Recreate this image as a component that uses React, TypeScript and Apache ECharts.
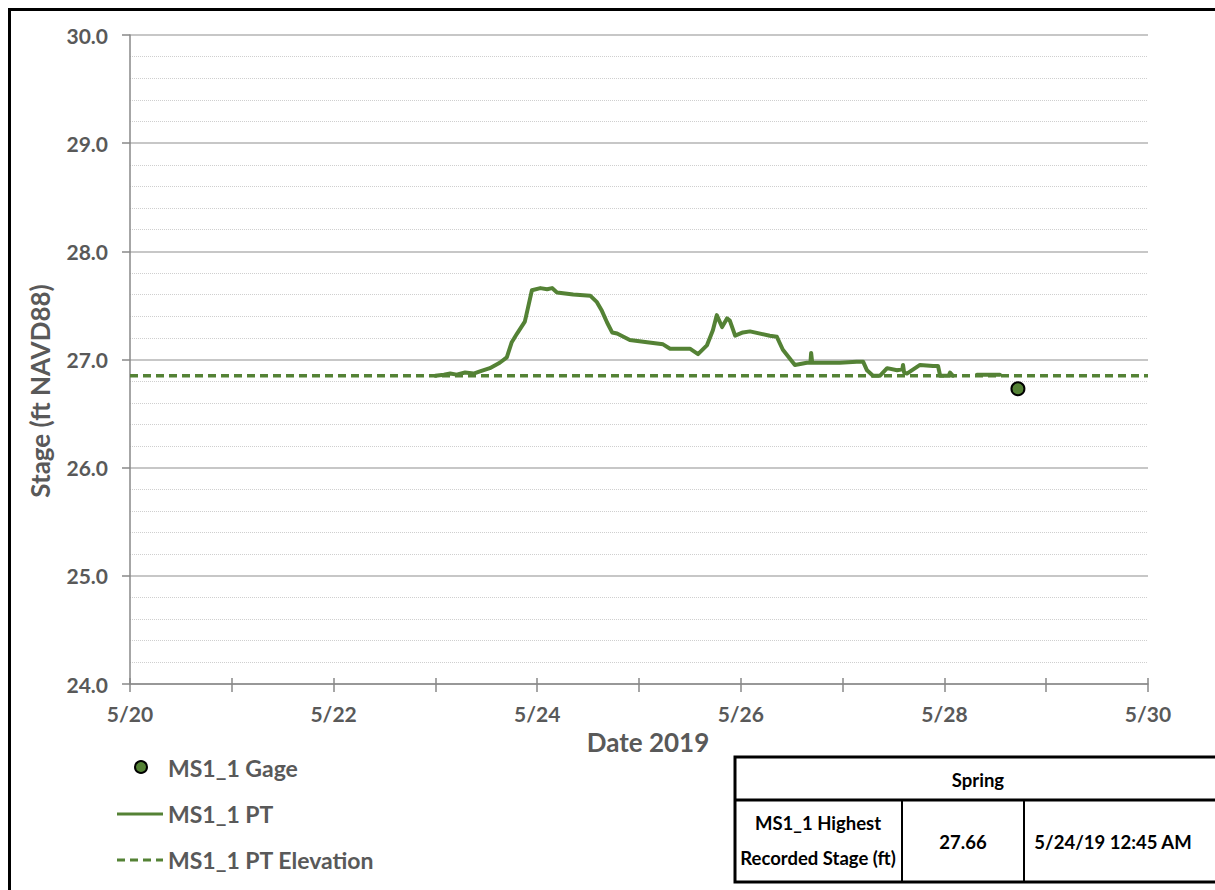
import React, { useEffect, useRef } from "react";
import * as echarts from "echarts";

// ---- data ----
const ptSeries: [string, number | null][] = [
  ["5/23 00:00", 26.85],
  ["5/23 02:00", 26.86],
  ["5/23 03:30", 26.87],
  ["5/23 05:00", 26.86],
  ["5/23 07:00", 26.88],
  ["5/23 09:00", 26.87],
  ["5/23 10:30", 26.89],
  ["5/23 12:50", 26.92],
  ["5/23 15:10", 26.97],
  ["5/23 16:50", 27.02],
  ["5/23 18:00", 27.16],
  ["5/23 19:15", 27.24],
  ["5/23 21:05", 27.35],
  ["5/23 21:50", 27.48],
  ["5/23 22:45", 27.64],
  ["5/24 00:45", 27.66],
  ["5/24 02:20", 27.65],
  ["5/24 03:30", 27.66],
  ["5/24 04:40", 27.62],
  ["5/24 08:30", 27.6],
  ["5/24 12:30", 27.59],
  ["5/24 14:05", 27.53],
  ["5/24 15:15", 27.45],
  ["5/24 16:30", 27.34],
  ["5/24 17:40", 27.25],
  ["5/24 18:50", 27.24],
  ["5/24 21:50", 27.18],
  ["5/25 01:55", 27.16],
  ["5/25 05:40", 27.14],
  ["5/25 07:20", 27.1],
  ["5/25 12:00", 27.1],
  ["5/25 13:55", 27.05],
  ["5/25 16:00", 27.13],
  ["5/25 17:25", 27.27],
  ["5/25 18:20", 27.41],
  ["5/25 19:35", 27.3],
  ["5/25 20:45", 27.38],
  ["5/25 21:25", 27.36],
  ["5/25 22:40", 27.22],
  ["5/26 00:30", 27.25],
  ["5/26 02:10", 27.26],
  ["5/26 06:50", 27.22],
  ["5/26 08:30", 27.21],
  ["5/26 09:55", 27.09],
  ["5/26 12:45", 26.95],
  ["5/26 15:35", 26.97],
  ["5/26 16:25", 26.97],
  ["5/26 16:35", 27.06],
  ["5/26 16:50", 26.97],
  ["5/26 23:20", 26.97],
  ["5/27 03:20", 26.98],
  ["5/27 04:50", 26.98],
  ["5/27 05:45", 26.9],
  ["5/27 07:10", 26.85],
  ["5/27 08:50", 26.85],
  ["5/27 10:30", 26.92],
  ["5/27 12:50", 26.9],
  ["5/27 14:05", 26.91],
  ["5/27 14:15", 26.95],
  ["5/27 14:30", 26.88],
  ["5/27 15:10", 26.87],
  ["5/27 18:15", 26.95],
  ["5/27 21:20", 26.94],
  ["5/27 22:30", 26.94],
  ["5/27 23:00", 26.85],
  ["5/28 01:00", 26.85],
  ["5/28 01:20", 26.88],
  ["5/28 02:00", 26.85],
  ["5/28 04:00", null],
  ["5/28 07:40", 26.86],
  ["5/28 13:05", 26.86],
];
const gageSeries: [string, number][] = [["5/28 17:20", 26.73]];
const ptElevation = 26.85;
const xRange: [string, string] = ["5/20 00:00", "5/30 00:00"];
const yTicks = [24, 25, 26, 27, 28, 29, 30];
const tableHeader = "Spring";
const tableRowLabel = ["MS1_1 Highest", "Recorded Stage (ft)"];
const tableValue = "27.66";
const tableDate = "5/24/19 12:45 AM";
const legendNames = ["MS1_1 Gage", "MS1_1 PT", "MS1_1 PT Elevation"];

// convert "M/D HH:mm" to fractional day of May
function toDay(s: string): number {
  const [md, hm] = s.split(" ");
  const d = Number(md.split("/")[1]);
  const [h, m] = hm.split(":").map(Number);
  return d + h / 24 + m / 1440;
}

const GREEN = "#548235";
const GRAY = "#595959";
const FONT = "Lato";

export default function App() {
  const ref = useRef<HTMLDivElement>(null);
  useEffect(() => {
    document.body.style.margin = "0";
    const chart = echarts.init(ref.current!, undefined, { renderer: "svg" });
    const xMin = toDay(xRange[0]);
    const xMax = toDay(xRange[1]);
    const tableFont = `bold 18.5px ${FONT}`;
    const option: any = {
      animation: false,
      backgroundColor: "#ffffff",
      grid: { left: 130, right: 67, top: 35, bottom: 206 },
      xAxis: [
        {
          type: "value",
          min: xMin,
          max: xMax,
          interval: 1,
          axisLine: { show: true, lineStyle: { color: "#898989", width: 1.5 } },
          axisTick: { show: true, length: 8, lineStyle: { color: "#898989", width: 1.5 } },
          axisLabel: {
            margin: 19,
            color: GRAY,
            fontFamily: FONT,
            fontWeight: "bold",
            fontSize: 21,
            formatter: (v: number) => (Math.round(v) % 2 === 0 ? `5/${Math.round(v)}` : ""),
          },
          splitLine: { show: false },
        },
        {
          type: "value",
          position: "bottom",
          min: xMin,
          max: xMax,
          interval: 1,
          axisLine: { show: false },
          axisTick: { show: true, inside: true, length: 6, lineStyle: { color: "#898989", width: 1.5 } },
          axisLabel: { show: false },
          splitLine: { show: false },
        },
      ],
      yAxis: {
        type: "value",
        min: yTicks[0],
        max: yTicks[yTicks.length - 1],
        interval: 1,
        axisLine: { show: true, lineStyle: { color: "#898989", width: 1.5 } },
        axisTick: { show: true, length: 8, lineStyle: { color: "#898989", width: 1.5 } },
        axisLabel: {
          margin: 22,
          color: GRAY,
          fontFamily: FONT,
          fontWeight: "bold",
          fontSize: 21,
          formatter: (v: number) => v.toFixed(1),
        },
        splitLine: { show: true, lineStyle: { color: "#b4b4b4", width: 1.5 } },
        minorTick: { show: true, splitNumber: 5, length: 0 },
        minorSplitLine: { show: true, lineStyle: { color: "#cfcfcf", type: "dotted", width: 1 } },
      },
      series: [
        {
          name: legendNames[2],
          type: "line",
          data: [
            [xMin, ptElevation],
            [xMax, ptElevation],
          ],
          symbol: "none",
          lineStyle: { color: GREEN, width: 3.5, type: [8, 5] },
          z: 3,
        },
        {
          name: legendNames[1],
          type: "line",
          data: ptSeries.map(([t, v]) => [toDay(t), v]),
          symbol: "none",
          connectNulls: false,
          lineStyle: { color: GREEN, width: 4, join: "round", cap: "round" },
          z: 4,
        },
        {
          name: legendNames[0],
          type: "scatter",
          data: gageSeries.map(([t, v]) => [toDay(t), v]),
          symbol: "circle",
          symbolSize: 13,
          itemStyle: { color: GREEN, borderColor: "#000", borderWidth: 2, opacity: 1 },
          z: 5,
        },
      ],
      graphic: [
        {
          type: "rect",
          shape: { x: 9.5, y: 9.5, width: 1230, height: 900 },
          style: { fill: "none", stroke: "#000", lineWidth: 3 },
          silent: true,
        },
        {
          type: "text",
          x: 40,
          y: 391,
          rotation: Math.PI / 2,
          style: {
            text: "Stage (ft NAVD88)",
            fill: GRAY,
            font: `bold 26px ${FONT}`,
            textAlign: "center",
            textVerticalAlign: "middle",
          },
        },
        {
          type: "text",
          x: 648,
          y: 742,
          style: {
            text: "Date 2019",
            fill: GRAY,
            font: `bold 26px ${FONT}`,
            textAlign: "center",
            textVerticalAlign: "middle",
          },
        },
        {
          type: "circle",
          shape: { cx: 141, cy: 767, r: 6 },
          style: { fill: GREEN, stroke: "#000", lineWidth: 2 },
        },
        {
          type: "text",
          x: 168,
          y: 768,
          style: { text: legendNames[0], fill: GRAY, font: `bold 23px ${FONT}`, textVerticalAlign: "middle" },
        },
        {
          type: "line",
          shape: { x1: 117, y1: 814, x2: 163, y2: 814 },
          style: { stroke: GREEN, lineWidth: 3 },
        },
        {
          type: "text",
          x: 168,
          y: 814,
          style: { text: legendNames[1], fill: GRAY, font: `bold 23px ${FONT}`, textVerticalAlign: "middle" },
        },
        {
          type: "line",
          shape: { x1: 117, y1: 860, x2: 163, y2: 860 },
          style: { stroke: GREEN, lineWidth: 3, lineDash: [8, 5] },
        },
        {
          type: "text",
          x: 168,
          y: 860,
          style: { text: legendNames[2], fill: GRAY, font: `bold 23px ${FONT}`, textVerticalAlign: "middle" },
        },
        {
          type: "rect",
          shape: { x: 735, y: 757, width: 500, height: 125 },
          style: { fill: "#fff", stroke: "#000", lineWidth: 3 },
        },
        {
          type: "line",
          shape: { x1: 735, y1: 800, x2: 1235, y2: 800 },
          style: { stroke: "#000", lineWidth: 3 },
        },
        {
          type: "line",
          shape: { x1: 902, y1: 800, x2: 902, y2: 882 },
          style: { stroke: "#000", lineWidth: 2 },
        },
        {
          type: "line",
          shape: { x1: 1024, y1: 800, x2: 1024, y2: 882 },
          style: { stroke: "#000", lineWidth: 2 },
        },
        {
          type: "text",
          x: 978,
          y: 780,
          style: { text: tableHeader, fill: "#000", font: tableFont, textAlign: "center", textVerticalAlign: "middle" },
        },
        {
          type: "text",
          x: 818,
          y: 823,
          style: { text: tableRowLabel[0], fill: "#000", font: tableFont, textAlign: "center", textVerticalAlign: "middle" },
        },
        {
          type: "text",
          x: 818,
          y: 858,
          style: { text: tableRowLabel[1], fill: "#000", font: tableFont, textAlign: "center", textVerticalAlign: "middle" },
        },
        {
          type: "text",
          x: 963,
          y: 842,
          style: { text: tableValue, fill: "#000", font: tableFont, textAlign: "center", textVerticalAlign: "middle" },
        },
        {
          type: "text",
          x: 1113,
          y: 842,
          style: { text: tableDate, fill: "#000", font: tableFont, textAlign: "center", textVerticalAlign: "middle" },
        },
      ],
    };
    chart.setOption(option);
    return () => chart.dispose();
  }, []);
  return <div ref={ref} style={{ width: 1215, height: 890 }} />;
}
